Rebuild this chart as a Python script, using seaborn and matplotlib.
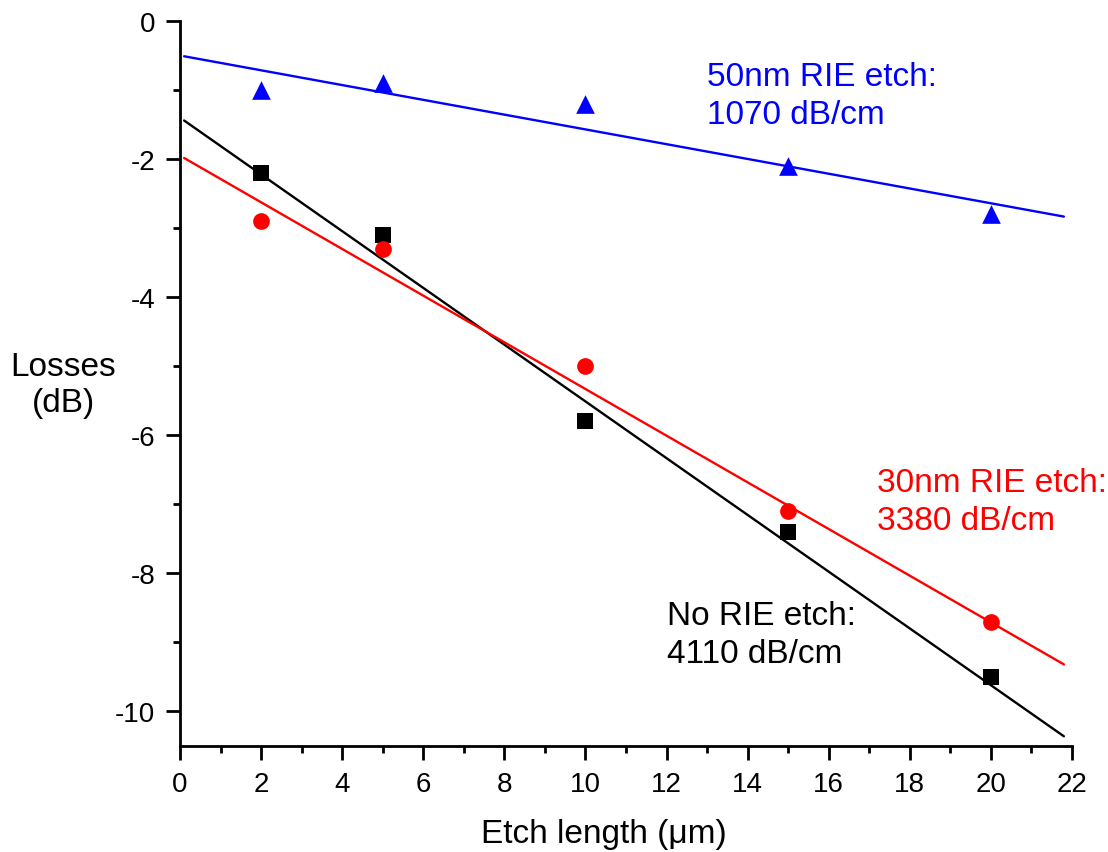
import numpy as np
import pandas as pd
import matplotlib
matplotlib.use("Agg")
import matplotlib.pyplot as plt
import seaborn as sns
from matplotlib.ticker import MultipleLocator

# datos medidos (perdidas en dB vs longitud de grabado en um)
etch_len = [2, 5, 10, 15, 20]
loss_none = [-2.2, -3.1, -5.8, -7.4, -9.5]
loss_30nm = [-2.9, -3.3, -5.0, -7.1, -8.7]
loss_50nm = [-1.0, -0.9, -1.2, -2.1, -2.8]

# ajustes lineales: pendiente en dB/um (de las etiquetas dB/cm) e intercepto leido
fit_slope = {"none": -0.411, "30nm": -0.338, "50nm": -0.107}
fit_icpt = {"none": -1.40, "30nm": -1.95, "50nm": -0.50}
fit_x = [0.1, 21.8]

labels = {"none": "No RIE etch:\n4110 dB/cm",
          "30nm": "30nm RIE etch:\n3380 dB/cm",
          "50nm": "50nm RIE etch:\n1070 dB/cm"}
colors = {"none": "black", "30nm": "#ff0000", "50nm": "#0000ff"}
markers = {"none": "s", "30nm": "o", "50nm": "^"}
msize = {"none": 135, "30nm": 145, "50nm": 180}
text_pos = {"none": (12.0, -8.89), "30nm": (17.2, -6.96), "50nm": (13.0, -1.08)}

df = pd.DataFrame({
    "x": etch_len * 3,
    "y": loss_none + loss_30nm + loss_50nm,
    "serie": ["none"] * 5 + ["30nm"] * 5 + ["50nm"] * 5,
})
fit_rows = []
for k in fit_slope:
    for xv in fit_x:
        fit_rows.append({"x": xv, "y": fit_icpt[k] + fit_slope[k] * xv, "serie": k})
df_fit = pd.DataFrame(fit_rows)

sns.set_style("ticks")
plt.rcParams["font.family"] = ["Liberation Sans", "DejaVu Sans"]
plt.rcParams["axes.unicode_minus"] = False
plt.rcParams["text.color"] = "black"
plt.rcParams["axes.labelcolor"] = "black"

fig = plt.figure(figsize=(11.08, 8.53), dpi=100)
ax = fig.add_axes([0.1625, 0.1243, 0.805, 0.8499])

for k in ["none", "30nm", "50nm"]:
    sns.lineplot(data=df_fit[df_fit.serie == k], x="x", y="y", color=colors[k],
                 linewidth=1.7, ax=ax, zorder=2)
    sns.scatterplot(data=df[df.serie == k], x="x", y="y", color=colors[k],
                    marker=markers[k], s=msize[k], linewidth=0, ax=ax, zorder=3)
    ax.text(text_pos[k][0], text_pos[k][1], labels[k], color=colors[k],
            fontsize=24, ha="left", va="center", linespacing=1.3)

ax.set_xlim(0, 22)
ax.set_ylim(-10.5, 0)
ax.xaxis.set_major_locator(MultipleLocator(2))
ax.xaxis.set_minor_locator(MultipleLocator(1))
ax.yaxis.set_major_locator(MultipleLocator(2))
ax.yaxis.set_minor_locator(MultipleLocator(1))
ax.tick_params(which="major", length=10, width=2, labelsize=20, color="black",
               labelcolor="black", pad=8)
ax.tick_params(which="minor", length=5, width=2, color="black")

sns.despine(ax=ax)
for sp in ["left", "bottom"]:
    ax.spines[sp].set_linewidth(2)
    ax.spines[sp].set_color("black")

ax.set_xlabel("Etch length (\u03bcm)", fontsize=24, va="top")
ax.xaxis.set_label_coords(0.475, -0.10)
ax.set_ylabel("Losses\n(dB)", fontsize=24, rotation=0, ha="center", va="center")
ax.yaxis.set_label_coords(-0.131, 0.499)

fig.savefig("out.png", dpi=100)
